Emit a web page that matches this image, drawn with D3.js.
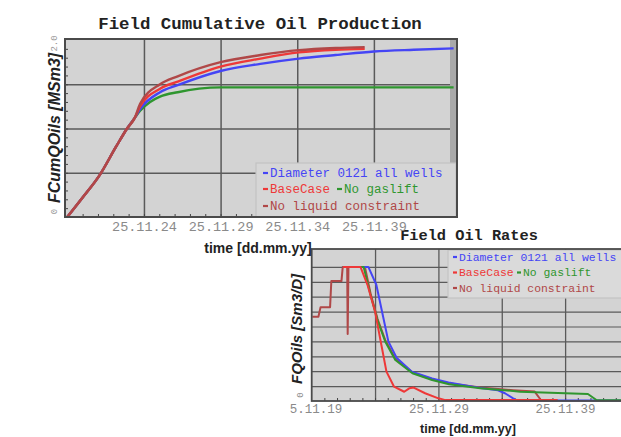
<!DOCTYPE html>
<html><head><meta charset="utf-8">
<script src="https://cdn.jsdelivr.net/npm/d3@7"></script>
<style>
html,body{margin:0;padding:0;background:#fff;}
svg{display:block;}
</style></head><body>
<svg id="c" width="621" height="437"></svg>
<script>
// ---- series ----
const seriesNames  = ["Diameter 0121 all wells", "BaseCase", "No gaslift", "No liquid constraint"];
const seriesColors = ["#4545f5", "#ee3838", "#2f962f", "#b04848"];

// ---- Field cumulative oil production [MSm3]: [decimal year, value] ----
const cumDiameter = [[2019.9,0],[2020.9,0.22],[2022.0,0.47],[2023.1,0.80],[2023.8,1.0],[2024.3,1.12],[2024.65,1.22],[2025.95,1.41],[2027.1,1.49],[2029.9,1.65],[2032.5,1.73],[2035.0,1.79],[2037.4,1.83],[2039.9,1.87],[2042.5,1.89],[2045.1,1.905]];
const cumBaseCase = [[2019.9,0],[2020.9,0.22],[2022.0,0.47],[2023.1,0.80],[2023.8,1.0],[2024.3,1.12],[2024.65,1.25],[2025.95,1.45],[2027.1,1.53],[2029.9,1.70],[2032.5,1.79],[2035.0,1.86],[2037.4,1.89],[2039.3,1.90]];
const cumNoGaslift = [[2019.9,0],[2020.9,0.22],[2022.0,0.47],[2023.1,0.80],[2023.8,1.0],[2024.3,1.12],[2024.65,1.20],[2025.3,1.30],[2025.95,1.36],[2027.1,1.41],[2028.5,1.45],[2029.9,1.465],[2035.0,1.465],[2040.0,1.465],[2045.1,1.465]];
const cumNoLiquid = [[2019.9,0],[2020.9,0.22],[2022.0,0.47],[2023.1,0.80],[2023.8,1.0],[2024.3,1.12],[2024.65,1.28],[2025.95,1.50],[2027.1,1.59],[2029.9,1.75],[2032.5,1.83],[2035.0,1.885],[2037.4,1.91],[2039.3,1.92]];

// ---- Field oil rates [Sm3/D, scaled]: [decimal year, value] ----
const rateDiameter = [[2022.35,9.0],[2024.37,9.0],[2025.0,7.8],[2025.55,5.6],[2025.95,4.0],[2026.6,2.9],[2027.8,1.97],[2029.4,1.52],[2030.7,1.25],[2033.2,0.88],[2034.6,0.72],[2035.15,0.52],[2035.8,0.18],[2036.1,0.04],[2045.1,0.04]];
const rateBaseCase = [[2022.35,9.0],[2023.75,9.0],[2024.3,7.8],[2024.9,6.0],[2025.4,3.76],[2025.8,1.97],[2026.4,0.96],[2027.2,0.62],[2027.6,0.85],[2027.95,0.9],[2028.85,0.52],[2029.9,0.18],[2030.45,0.06],[2039.3,0.06]];
const rateNoGaslift = [[2022.35,9.0],[2024.0,9.0],[2024.55,7.1],[2025.1,5.4],[2025.7,4.0],[2026.5,2.75],[2027.85,1.86],[2029.4,1.41],[2030.75,1.12],[2033.2,0.85],[2035.8,0.67],[2036.35,0.62],[2041.7,0.47],[2042.4,0.05],[2045.1,0.05]];
const rateNoLiquid = [[2019.95,5.65],[2020.43,5.65],[2020.6,6.3],[2021.35,6.3],[2021.45,8.05],[2022.25,8.05],[2022.35,9.0],[2022.7,9.0],[2022.74,4.5],[2022.8,9.0],[2024.1,9.0],[2024.55,7.2],[2025.1,5.5],[2025.7,4.1],[2026.5,2.85],[2027.9,1.9],[2029.4,1.46],[2030.7,1.2],[2033.2,0.9],[2035.8,0.72],[2037.5,0.63],[2038.0,0.05],[2039.3,0.05]];

// ---- axis ticks ----
const topTickYears  = [2024.9, 2029.9, 2034.9, 2039.9];
const topTickLabels = ["25.11.24", "25.11.29", "25.11.34", "25.11.39"];
const topYTicks     = [0, 2];
const topYLabels    = ["0", "2.0"];
const botGridYears  = [2024.9, 2029.9, 2034.9, 2039.9];
const botTickYears  = [2019.9, 2029.9, 2039.9];
const botTickLabels = ["25.11.19", "25.11.29", "25.11.39"];

const MONO = "'Liberation Mono','DejaVu Sans Mono',monospace";
const SANS = "'Liberation Sans',Arial,sans-serif";

const svg = d3.select("#c");

function legendRow(g, x, y, idx, size, dash) {
  g.append("line").attr("x1", x).attr("x2", x + dash).attr("y1", y).attr("y2", y)
    .attr("stroke", seriesColors[idx]).attr("stroke-width", 2.2);
  return g.append("text").attr("x", x + dash + 2).attr("y", y).attr("dy", "0.35em")
    .attr("fill", seriesColors[idx]).style("font-family", MONO).style("font-size", size + "px")
    .text(seriesNames[idx]);
}

// ================= Field Oil Rates (lower panel, drawn first) =================
const botP = { x0: 311.7, x1: 631, yTop: 252, yBot: 401 };
const xB = d3.scaleLinear().domain([2019.9, 2045.1]).range([botP.x0, botP.x1]);
const yB = d3.scaleLinear().domain([0, 10]).range([botP.yBot, botP.yTop]);

svg.append("defs").append("clipPath").attr("id", "botClip")
  .append("rect").attr("x", 290).attr("y", 226).attr("width", 331).attr("height", 211);

const gB = svg.append("g").attr("clip-path", "url(#botClip)");

gB.append("rect").attr("x", botP.x0).attr("y", 249).attr("width", 340).attr("height", botP.yBot - 249)
  .attr("fill", "#d3d3d3");

// grid
gB.append("g").attr("transform", `translate(0,${botP.yBot})`)
  .call(d3.axisBottom(xB).tickValues(botGridYears).tickSize(-(botP.yBot - 249)).tickFormat(""))
  .call(g => g.select(".domain").remove())
  .call(g => g.selectAll("line").attr("stroke", "#5a5a5a").attr("stroke-width", 1.3));
gB.append("g").attr("transform", `translate(${botP.x0},0)`)
  .call(d3.axisLeft(yB).tickValues(d3.range(1, 10)).tickSize(-340).tickFormat(""))
  .call(g => g.select(".domain").remove())
  .call(g => g.selectAll("line").attr("stroke", "#5a5a5a").attr("stroke-width", 1.2));
// minor ticks
gB.append("g").attr("transform", `translate(0,${botP.yBot})`)
  .call(d3.axisBottom(xB).tickValues(d3.range(2020.9, 2045, 1)).tickSize(-3).tickFormat(""))
  .call(g => g.select(".domain").remove())
  .call(g => g.selectAll("line").attr("stroke", "#444"));

// legend box
gB.append("rect").attr("x", 448).attr("y", 250).attr("width", 200).attr("height", 48)
  .attr("fill", "#dadada").attr("stroke", "#c4c4c4").attr("stroke-width", 1.2);

const lineB = d3.line().x(d => xB(d[0])).y(d => yB(d[1]));
const rateSets = [
  { data: rateNoLiquid, c: 3 },
  { data: rateDiameter, c: 0 },
  { data: rateNoGaslift, c: 2 },
  { data: rateBaseCase, c: 1 }
];
rateSets.forEach(s => {
  gB.append("path").datum(s.data).attr("d", lineB).attr("fill", "none")
    .attr("stroke", seriesColors[s.c]).attr("stroke-width", 2).attr("stroke-linejoin", "round");
});

// frame
gB.append("rect").attr("x", botP.x0).attr("y", 249).attr("width", 340).attr("height", botP.yBot - 249)
  .attr("fill", "none").attr("stroke", "#4a4a4a").attr("stroke-width", 1.8);

legendRow(gB, 453, 257, 0, 11.4, 4);
legendRow(gB, 453, 272.5, 1, 11.4, 4);
legendRow(gB, 517, 272.5, 2, 11.4, 4);
legendRow(gB, 453, 288, 3, 11.4, 4);

// x tick labels
gB.append("g").attr("transform", `translate(0,${botP.yBot})`)
  .call(d3.axisBottom(xB).tickValues(botTickYears).tickSize(0).tickPadding(3)
    .tickFormat((d, i) => botTickLabels[i]))
  .call(g => g.select(".domain").remove())
  .call(g => g.selectAll("text").attr("fill", "#8a8a8a").style("font-family", MONO).style("font-size", "12.5px"));

// y tick label
gB.append("text").attr("transform", `translate(303,${yB(0) - 6}) rotate(-90)`)
  .attr("text-anchor", "middle").attr("fill", "#8a8a8a")
  .style("font-family", MONO).style("font-size", "9px").text("0");

// titles
gB.append("text").attr("x", 469).attr("y", 240).attr("text-anchor", "middle")
  .style("font-family", MONO).style("font-weight", "bold").style("font-size", "15.3px").attr("fill", "#222")
  .text("Field Oil Rates");
gB.append("text").attr("x", 468).attr("y", 433).attr("text-anchor", "middle")
  .style("font-family", SANS).style("font-weight", "bold").style("font-size", "12.5px").attr("fill", "#222")
  .text("time [dd.mm.yy]");
gB.append("text").attr("transform", "translate(302,329) rotate(-90)").attr("text-anchor", "middle")
  .style("font-family", SANS).style("font-weight", "bold").style("font-style", "italic")
  .style("font-size", "15px").attr("fill", "#222").text("FQOils [Sm3/D]");

// ================= Field Cumulative Oil Production (upper panel) =================
const topP = { x0: 65, x1: 457, yTop: 39, yBot: 217 };
const xT = d3.scaleLinear().domain([2019.9, 2045.1]).range([67.3, 453.6]);
const yT = d3.scaleLinear().domain([0, 2]).range([217, 40]);

const gT = svg.append("g");
gT.append("rect").attr("x", topP.x0).attr("y", topP.yTop).attr("width", topP.x1 - topP.x0).attr("height", topP.yBot - topP.yTop)
  .attr("fill", "#d3d3d3");
gT.append("rect").attr("x", 450).attr("y", topP.yTop).attr("width", topP.x1 - 450).attr("height", topP.yBot - topP.yTop)
  .attr("fill", "#a9a9a9");

gT.append("g").attr("transform", `translate(0,${topP.yBot})`)
  .call(d3.axisBottom(xT).tickValues(topTickYears).tickSize(-(topP.yBot - topP.yTop)).tickFormat(""))
  .call(g => g.select(".domain").remove())
  .call(g => g.selectAll("line").attr("stroke", "#5a5a5a").attr("stroke-width", 1.5));
gT.append("g").attr("transform", `translate(${topP.x0},0)`)
  .call(d3.axisLeft(yT).tickValues([0.5, 1.0, 1.5]).tickSize(-(450 - topP.x0)).tickFormat(""))
  .call(g => g.select(".domain").remove())
  .call(g => g.selectAll("line").attr("stroke", "#5a5a5a").attr("stroke-width", 1.5));
// minor ticks
gT.append("g").attr("transform", `translate(0,${topP.yBot})`)
  .call(d3.axisBottom(xT).tickValues(d3.range(2020.9, 2044, 1)).tickSize(-3).tickFormat(""))
  .call(g => g.select(".domain").remove())
  .call(g => g.selectAll("line").attr("stroke", "#444"));
gT.append("g").attr("transform", `translate(${topP.x0},0)`)
  .call(d3.axisLeft(yT).tickValues(d3.range(0.1, 2, 0.1)).tickSize(-3).tickFormat(""))
  .call(g => g.select(".domain").remove())
  .call(g => g.selectAll("line").attr("stroke", "#444"));

const lineT = d3.line().x(d => xT(d[0])).y(d => yT(d[1])).curve(d3.curveMonotoneX);
const cumSets = [
  { data: cumNoGaslift, c: 2 },
  { data: cumDiameter, c: 0 },
  { data: cumBaseCase, c: 1 },
  { data: cumNoLiquid, c: 3 }
];
cumSets.forEach(s => {
  gT.append("path").datum(s.data).attr("d", lineT).attr("fill", "none")
    .attr("stroke", seriesColors[s.c]).attr("stroke-width", 2.4).attr("stroke-linejoin", "round");
});

// legend
gT.append("rect").attr("x", 256).attr("y", 163).attr("width", 200).attr("height", topP.yBot - 163)
  .attr("fill", "#d6d6d6").attr("stroke", "#c2c2c2").attr("stroke-width", 1.2);
legendRow(gT, 263, 173, 0, 12.5, 5);
legendRow(gT, 263, 189, 1, 12.5, 5);
legendRow(gT, 337, 189, 2, 12.5, 5);
legendRow(gT, 263, 206, 3, 12.5, 5);

// frame
gT.append("rect").attr("x", topP.x0).attr("y", topP.yTop).attr("width", topP.x1 - topP.x0).attr("height", topP.yBot - topP.yTop)
  .attr("fill", "none").attr("stroke", "#4a4a4a").attr("stroke-width", 2);

// x tick labels
gT.append("g").attr("transform", `translate(0,${topP.yBot})`)
  .call(d3.axisBottom(xT).tickValues(topTickYears).tickSize(0).tickPadding(4)
    .tickFormat((d, i) => topTickLabels[i]))
  .call(g => g.select(".domain").remove())
  .call(g => g.selectAll("text").attr("fill", "#8a8a8a").style("font-family", MONO).style("font-size", "13.5px"));

// y tick labels (rotated, beside the axis)
gT.append("g").attr("transform", `translate(${topP.x0 - 11},0)`)
  .call(d3.axisLeft(yT).tickValues(topYTicks).tickSize(0).tickFormat((d, i) => topYLabels[i]))
  .call(g => g.select(".domain").remove())
  .call(g => g.selectAll("text").attr("x", 0).attr("y", 0).attr("dy", "0.35em")
      .attr("transform", d => d === 0 ? "translate(0,-6) rotate(-90)" : "translate(0,3) rotate(-90)")
      .attr("text-anchor", "middle")
      .attr("fill", "#9a9a9a").style("font-family", MONO).style("font-size", "9px"));

// titles
gT.append("text").attr("x", 260).attr("y", 29).attr("text-anchor", "middle")
  .style("font-family", MONO).style("font-weight", "bold").style("font-size", "17.4px").attr("fill", "#222")
  .text("Field Cumulative Oil Production");
gT.append("text").attr("x", 258).attr("y", 253).attr("text-anchor", "middle")
  .style("font-family", SANS).style("font-weight", "bold").style("font-size", "14px").attr("fill", "#222")
  .text("time [dd.mm.yy]");
gT.append("text").attr("transform", "translate(60,128) rotate(-90)").attr("text-anchor", "middle")
  .style("font-family", SANS).style("font-weight", "bold").style("font-style", "italic")
  .style("font-size", "16px").attr("fill", "#222").text("FCumQOils [MSm3]");
</script>
</body></html>
